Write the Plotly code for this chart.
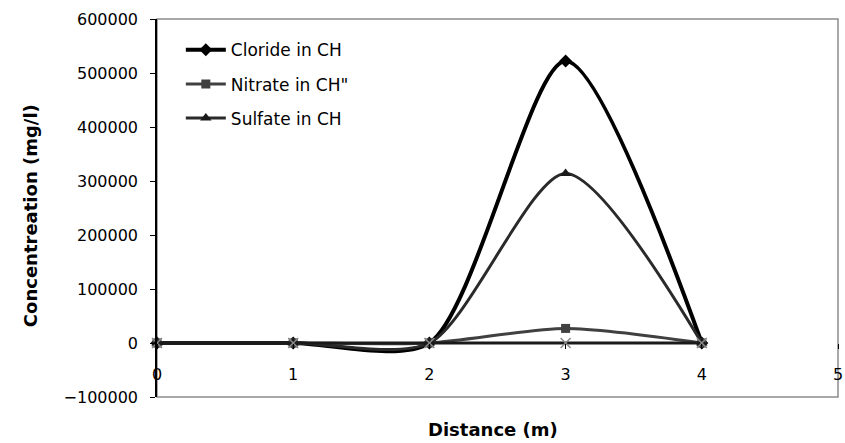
import plotly.graph_objects as go

distance = [0, 1, 2, 3, 4]
cloride = [0, 0, 0, 522000, 0]
nitrate = [0, 0, 0, 27000, 0]
sulfate = [0, 0, 0, 314000, 0]
series4 = [0, 0, 0, 0, 0]
x_ticks = [0, 1, 2, 3, 4, 5]
y_ticks = [-100000, 0, 100000, 200000, 300000, 400000, 500000, 600000]

FONT = "DejaVu Sans"
SMOOTH = 0.75

fig = go.Figure()
fig.add_trace(go.Scatter(
    x=distance, y=cloride, name="Cloride in CH", mode="lines+markers",
    line=dict(color="#000000", width=4, shape="spline", smoothing=SMOOTH),
    marker=dict(symbol="diamond", size=10, color="#000000"),
    legendgroup="a", cliponaxis=False))
fig.add_trace(go.Scatter(
    x=distance, y=nitrate, name='Nitrate in CH"', mode="lines+markers",
    line=dict(color="#404040", width=3, shape="spline", smoothing=SMOOTH),
    marker=dict(symbol="square", size=9, color="#404040"),
    legendgroup="b", cliponaxis=False))
fig.add_trace(go.Scatter(
    x=distance, y=sulfate, name="Sulfate in CH", mode="lines+markers",
    line=dict(color="#2a2a2a", width=3, shape="spline", smoothing=SMOOTH),
    marker=dict(symbol="triangle-up", size=10, color="#1a1a1a"),
    legendgroup="c", cliponaxis=False))
fig.add_trace(go.Scatter(
    x=distance, y=series4, name="Series 4", mode="lines+markers",
    line=dict(color="#1a1a1a", width=3),
    marker=dict(symbol="x-thin", size=10, line=dict(color="#8a8a8a", width=1.5)),
    showlegend=False, cliponaxis=False))

fig.update_layout(
    width=845, height=443,
    margin=dict(l=157, r=7, t=19, b=46, autoexpand=False),
    paper_bgcolor="white", plot_bgcolor="white",
    font=dict(family=FONT, size=16, color="#000000"),
    showlegend=True,
    legend=dict(x=0.035, y=0.965, xanchor="left", yanchor="top",
                bgcolor="rgba(0,0,0,0)", font=dict(size=17, family=FONT),
                tracegroupgap=9, itemwidth=40),
    xaxis=dict(range=[0, 5], tickvals=x_ticks, showgrid=False, zeroline=False,
               showline=False, ticks="outside", ticklen=5, tickcolor="#000000",
               anchor="free", position=1/7, ticklabelstandoff=12,
               ticklabeloverflow="allow",
               tickfont=dict(size=16, family=FONT)),
    yaxis=dict(range=[-100000, 600000], tickvals=y_ticks, tickformat="d",
               showgrid=False, zeroline=False, showline=True,
               linecolor="#000000", linewidth=1.5, ticks="outside", ticklen=5,
               tickcolor="#000000", ticklabelstandoff=9,
               tickfont=dict(size=16, family=FONT)),
    shapes=[dict(type="rect", xref="paper", yref="paper", x0=0, x1=1, y0=0, y1=1,
                 line=dict(color="#8c8c8c", width=1.5), layer="below")],
    annotations=[
        dict(text="<b>Distance (m)</b>", xref="paper", yref="paper",
             x=0.493, y=-0.087, xanchor="center", yanchor="middle",
             showarrow=False, font=dict(size=18, family=FONT)),
        dict(text="<b>Concentreation (mg/l)</b>", xref="paper", yref="paper",
             x=-0.1865, y=0.481, xanchor="center", yanchor="middle",
             textangle=-90, showarrow=False, font=dict(size=18, family=FONT)),
    ],
)

fig.write_html("out.html", config={"displayModeBar": False},
               post_script="document.body.style.margin='0';document.body.style.overflow='hidden';")
